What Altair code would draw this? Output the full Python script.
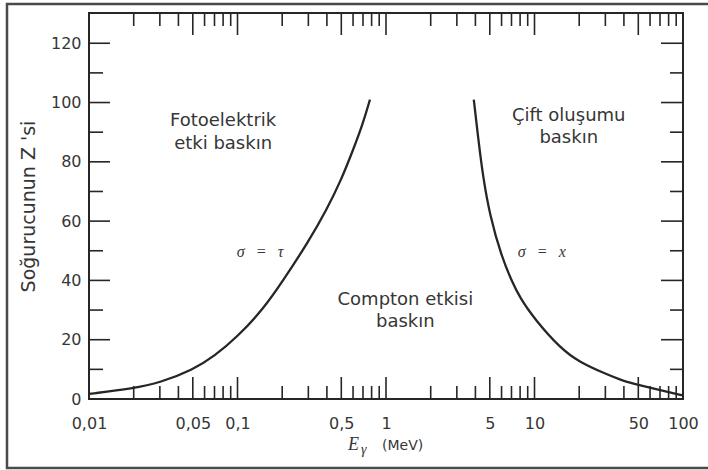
import altair as alt
import pandas as pd

# ---------------- data ----------------
photo_E = [0.01, 0.02, 0.03, 0.05, 0.07, 0.1, 0.15, 0.2, 0.3, 0.4, 0.5, 0.6, 0.7, 0.78]
photo_Z = [1.7, 3.6, 5.5, 9.8, 14.5, 21, 30.5, 39.5, 53, 64, 74, 84, 93, 101]

pair_E = [3.9, 4.2, 4.5, 5.0, 6.0, 7.0, 8.0, 10, 15, 20, 30, 40, 50, 70, 100]
pair_Z = [101, 87, 75, 62, 48, 40, 34, 27, 17, 12.5, 8.5, 6, 4.8, 3, 1.2]

ann_text = ["Fotoelektrik", "etki baskın", "Compton etkisi", "baskın", "Çift oluşumu", "baskın"]
ann_E = [0.08, 0.08, 1.35, 1.35, 17, 17]
ann_Z = [92.1, 84.2, 31.7, 24.2, 93.9, 86.2]

eq_text = ["σ\u2002\u2009=\u2002\u2009τ", "σ\u2002\u2009=\u2002\u2009x"]
eq_E = [0.142, 11.2]
eq_Z = [48, 48]

x_label_values = [0.01, 0.05, 0.1, 0.5, 1, 5, 10, 50, 100]
x_label_text = ["0,01", "0,05", "0,1", "0,5", "1", "5", "10", "50", "100"]
x_long_ticks = [0.05, 0.1, 0.5, 1, 5, 10, 50]
x_short_ticks = [0.02, 0.03, 0.04, 0.06, 0.07, 0.08, 0.09,
                 0.2, 0.3, 0.4, 0.6, 0.7, 0.8, 0.9,
                 2, 3, 4, 6, 7, 8, 9,
                 20, 30, 40, 60, 70, 80, 90]

y_label_values = [0, 20, 40, 60, 80, 100, 120]
y_long_ticks = [20, 40, 60, 80, 100, 120]
y_short_ticks = [10, 30, 50, 70, 90, 110]

y_title = "Soğurucunun Z 'si"

# ---------------- layout / style ----------------
W, H = 594, 386
LONG, SHORT = 22, 13
INK = "#262626"
TXT = "#363636"
SANS = "DejaVu Sans"
SERIF = "Liberation Serif"

label_expr = " : ".join(
    f"datum.value == {v} ? '{t}'" for v, t in zip(x_label_values, x_label_text)
) + " : ''"

xscale = alt.Scale(type="log", domain=[0.01, 100], nice=False)
yscale = alt.Scale(domain=[0, 130.2], nice=False, zero=False)

x_axis = alt.Axis(values=x_label_values, labelExpr=label_expr, ticks=False, tickSize=0,
                  domain=False, grid=False, labelFont=SANS, labelFontSize=16,
                  labelColor=TXT, labelPadding=16, title=None, labelFlush=False,
                  labelOverlap=False)
y_axis = alt.Axis(values=y_label_values, ticks=False, tickSize=0, domain=False, grid=False,
                  labelFont=SANS, labelFontSize=16, labelColor=TXT, labelPadding=8,
                  title=y_title, titleFont=SANS, titleFontSize=19,
                  titleFontWeight="normal", titleColor=TXT, titlePadding=12)

X = alt.X("E:Q", scale=xscale, axis=x_axis)
Y = alt.Y("Z:Q", scale=yscale, axis=y_axis)

photo_df = pd.DataFrame({"E": photo_E, "Z": photo_Z})
pair_df = pd.DataFrame({"E": pair_E, "Z": pair_Z})
ann_df = pd.DataFrame({"E": ann_E, "Z": ann_Z, "t": ann_text})
eq_df = pd.DataFrame({"E": eq_E, "Z": eq_Z, "t": eq_text})
one = pd.DataFrame({"a": [0]})

frame = alt.Chart(one).mark_rect(fillOpacity=0, stroke="#4a4a4a", strokeWidth=2.5).encode(
    x=alt.value(-82), x2=alt.value(650), y=alt.value(-9), y2=alt.value(455))

plot_box = alt.Chart(one).mark_rect(fillOpacity=0, stroke=INK, strokeWidth=2).encode(
    x=alt.value(0), x2=alt.value(W), y=alt.value(0), y2=alt.value(H))

photo_line = alt.Chart(photo_df).mark_line(
    color=INK, strokeWidth=2.3, interpolate="basis").encode(x=X, y=Y)
pair_line = alt.Chart(pair_df).mark_line(
    color=INK, strokeWidth=2.3, interpolate="basis").encode(x=X, y=Y)

ann = alt.Chart(ann_df).mark_text(
    font=SANS, fontSize=18, color=TXT, align="center", baseline="alphabetic").encode(
    x=X, y=Y, text="t:N")
eq = alt.Chart(eq_df).mark_text(
    font=SERIF, fontSize=16, fontStyle="italic", color=TXT, align="center",
    baseline="alphabetic").encode(x=X, y=Y, text="t:N")


def xticks(vals, length, top):
    df = pd.DataFrame({"E": vals})
    if top:
        ya, yb = 0, length
    else:
        ya, yb = H, H - length
    return alt.Chart(df).mark_rule(color=INK, strokeWidth=1.6).encode(
        x=X, y=alt.value(ya), y2=alt.value(yb))


def yticks(vals, length, right):
    df = pd.DataFrame({"Z": vals})
    if right:
        xa, xb = W, W - length
    else:
        xa, xb = 0, length
    return alt.Chart(df).mark_rule(color=INK, strokeWidth=1.6).encode(
        y=Y, x=alt.value(xa), x2=alt.value(xb))


tick_layers = [
    xticks(x_long_ticks, LONG, False), xticks(x_short_ticks, SHORT, False),
    xticks(x_long_ticks, LONG, True), xticks(x_short_ticks, SHORT, True),
    yticks(y_long_ticks, 21, False), yticks(y_short_ticks, 14, False),
    yticks(y_long_ticks, LONG, True), yticks(y_short_ticks, SHORT, True),
]

e_txt = alt.Chart(one).mark_text(font=SERIF, fontSize=18, fontStyle="italic", color=TXT,
                                 align="left", baseline="alphabetic", text="E").encode(
    x=alt.value(259), y=alt.value(437))
g_txt = alt.Chart(one).mark_text(font=SERIF, fontSize=14, fontStyle="italic", color=TXT,
                                 align="left", baseline="alphabetic", text="γ").encode(
    x=alt.value(272), y=alt.value(441))
mev_txt = alt.Chart(one).mark_text(font=SANS, fontSize=14, color=TXT,
                                   align="left", baseline="alphabetic", text="(MeV)").encode(
    x=alt.value(293), y=alt.value(437))

chart = alt.layer(
    frame, plot_box, photo_line, pair_line, ann, eq, *tick_layers, e_txt, g_txt, mev_txt
).properties(
    width=W, height=H,
    background="white",
    autosize=alt.AutoSizeParams(type="none"),
    padding={"left": 89, "top": 13, "right": 25, "bottom": 71},
).configure_view(
    stroke=INK, strokeWidth=2
)

chart.save("out.html", embed_options={"renderer": "svg", "actions": False})
